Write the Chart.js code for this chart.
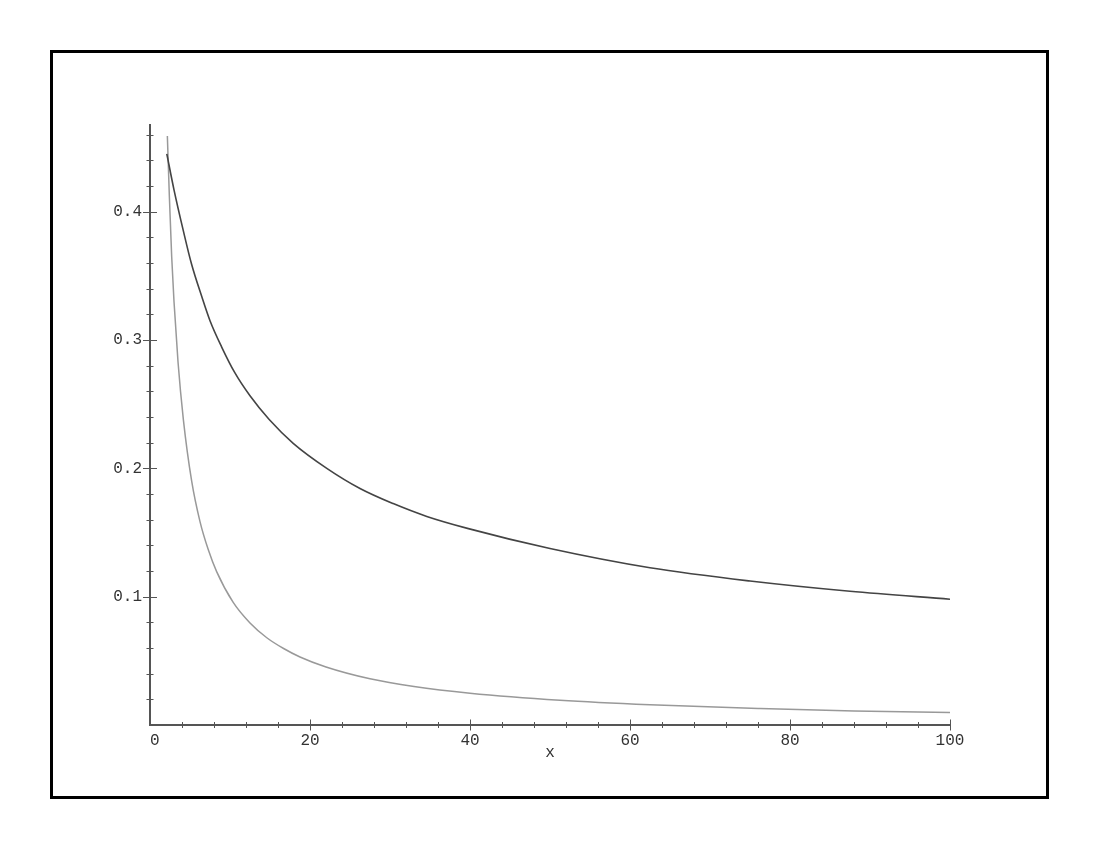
<!DOCTYPE html>
<html>
<head>
<meta charset="utf-8">
<script src="https://cdn.jsdelivr.net/npm/chart.js@4/dist/chart.umd.min.js"></script>
<style>
html,body{margin:0;padding:0;background:#fff;}
canvas{display:block;}
</style>
</head>
<body>
<canvas id="c" width="1100" height="850"></canvas>
<script>
// ---- data ----
const xUpper = [2.1, 3, 4.17, 5.2, 6.46, 7.5, 8.96, 10.6, 12.5, 14.9, 17.9, 22.1, 26.25, 30.4, 34.6, 39.8, 50, 62.5, 75, 87.5, 100];
const yUpper = [0.445, 0.417, 0.385, 0.359, 0.334, 0.315, 0.2945, 0.2745, 0.2565, 0.238, 0.2195, 0.200, 0.1843, 0.1725, 0.1625, 0.153, 0.1375, 0.1225, 0.1122, 0.1042, 0.098];
const xLower = [2.17, 2.42, 2.71, 3.0, 3.5, 4.17, 5.21, 6.25, 7.29, 8.33, 10.4, 12.5, 14.6, 16.7, 18.75, 22, 27.5, 33, 40, 51.25, 62.5, 76.25, 88, 100];
const yLower = [0.459, 0.412, 0.365, 0.330, 0.283, 0.238, 0.190, 0.1585, 0.1365, 0.1195, 0.0955, 0.0795, 0.068, 0.0596, 0.053, 0.0452, 0.036, 0.030, 0.0248, 0.0193, 0.0158, 0.0129, 0.011, 0.0097];

const xTickValues = [0,4,8,12,16,20,24,28,32,36,40,44,48,52,56,60,64,68,72,76,80,84,88,92,96,100];
const xTickLabels = {0:' 0', 20:'20', 40:'40', 60:'60', 80:'80', 100:'100'};
const yTickValues = [0,0.02,0.04,0.06,0.08,0.1,0.12,0.14,0.16,0.18,0.2,0.22,0.24,0.26,0.28,0.3,0.32,0.34,0.36,0.38,0.4,0.42,0.44,0.46];
const yTickLabels = {'0.1':'0.1','0.2':'0.2','0.3':'0.3','0.4':'0.4'};
const axisTitle = 'x';

const FONT = {family: "'Liberation Mono', 'DejaVu Sans Mono', monospace", size: 16, lineHeight: 1.2};
const TEXT = '#333';
const AXIS = '#555';

const frame = {
  id: 'frame',
  beforeDraw(chart){
    const ctx = chart.ctx;
    ctx.save();
    ctx.strokeStyle = '#000';
    ctx.lineWidth = 3;
    ctx.strokeRect(51.5, 51.5, 996, 746);
    ctx.restore();
  }
};

const crossTicks = {
  id: 'crossTicks',
  afterDraw(chart){
    const ctx = chart.ctx;
    const xs = chart.scales.x, ys = chart.scales.y;
    const ca = chart.chartArea;
    ctx.save();
    ctx.strokeStyle = AXIS;
    ctx.lineWidth = 1;
    xs.ticks.forEach(t => {
      if (t.value === 0) return;
      const px = Math.round(xs.getPixelForValue(t.value)) + 0.5;
      const major = (t.value % 20) === 0;
      const h = major ? 5.5 : 3;
      ctx.beginPath();
      ctx.moveTo(px, ca.bottom - h);
      ctx.lineTo(px, ca.bottom + h);
      ctx.stroke();
    });
    ys.ticks.forEach(t => {
      if (t.value === 0) return;
      const py = Math.round(ys.getPixelForValue(t.value)) + 0.5;
      const major = Math.abs(t.value*10 - Math.round(t.value*10)) < 1e-6;
      const w = major ? 7 : 3.5;
      ctx.beginPath();
      ctx.moveTo(ca.left - w, py);
      ctx.lineTo(ca.left + w, py);
      ctx.stroke();
    });
    ctx.restore();
  }
};

new Chart(document.getElementById('c'), {
  type: 'line',
  data: {
    datasets: [
      {
        data: xUpper.map((x,i)=>({x:x, y:yUpper[i]})),
        borderColor: '#444',
        borderWidth: 1.6,
        pointRadius: 0,
        cubicInterpolationMode: 'monotone',
        fill: false
      },
      {
        data: xLower.map((x,i)=>({x:x, y:yLower[i]})),
        borderColor: '#999',
        borderWidth: 1.5,
        pointRadius: 0,
        cubicInterpolationMode: 'monotone',
        fill: false
      }
    ]
  },
  options: {
    responsive: false,
    animation: false,
    events: [],
    layout: {padding: {left: 0, right: 150, top: 125, bottom: 88}},
    plugins: {legend: {display: false}, tooltip: {enabled: false}, title: {display: false}},
    scales: {
      x: {
        type: 'linear',
        min: 0, max: 100,
        afterFit(s){ s.height = 37; },
        afterBuildTicks(s){ s.ticks = xTickValues.map(v => ({value: v})); },
        grid: {display: false, drawTicks: false},
        border: {display: true, color: AXIS, width: 2},
        ticks: {
          autoSkip: false, maxRotation: 0, padding: 6,
          color: TEXT, font: FONT,
          callback: v => (xTickLabels[v] !== undefined ? xTickLabels[v] : '')
        },
        title: {display: true, text: axisTitle, color: TEXT, font: FONT, padding: {top: 0, bottom: 0}}
      },
      y: {
        type: 'linear',
        min: 0, max: 0.4675,
        afterFit(s){ s.width = 150; },
        afterBuildTicks(s){ s.ticks = yTickValues.map(v => ({value: v})); },
        grid: {display: false, drawTicks: false},
        border: {display: true, color: AXIS, width: 2},
        ticks: {
          autoSkip: false, padding: 8,
          color: TEXT, font: FONT,
          callback: v => { const k = (Math.round(v*100)/100).toString(); return yTickLabels[k] || ''; }
        }
      }
    }
  },
  plugins: [frame, crossTicks]
});
</script>
</body>
</html>
